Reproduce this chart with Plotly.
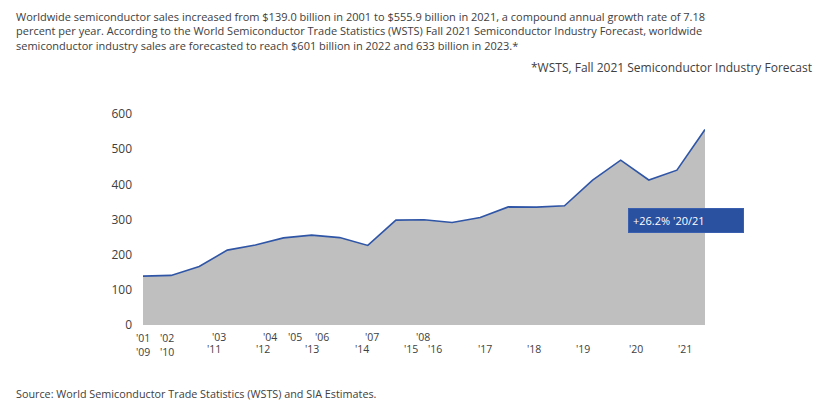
import plotly.graph_objects as go

# Worldwide semiconductor sales, $ billions (2001-2021)
years = list(range(2001, 2022))
sales = [139.0, 141.0, 166.4, 213.0, 227.5, 247.7, 255.6, 248.6, 226.3, 298.3,
         299.5, 291.6, 305.6, 335.8, 335.2, 338.9, 412.2, 468.8, 412.3, 440.4, 555.9]

# x-axis labels as they appear in the source (two staggered rows;
# the first two pairs sit on top of each other)
stacked_labels = ["'01<br>'09", "'02<br>'10"]
top_labels = ["'03", "'04", "'05", "'06", "'07", "'08"]
bottom_labels = ["'11", "'12", "'13", "'14", "'15", "'16",
                 "'17", "'18", "'19", "'20", "'21"]
y_ticks = [0, 100, 200, 300, 400, 500, 600]

# page body has an 8px margin, so the figure is drawn 8px in from the window edge
OFF = 8
W, H = 821 - 2 * OFF, 410 - 2 * OFF
ML, MT = 143 - OFF, 114 - OFF
MR = W + OFF - 705
MB = H + OFF - 325
PW, PH = W - ML - MR, H - MT - MB

stacked_pos = [2001.0, 2001.87]
top_pos = [2003.70, 2005.51, 2006.40, 2007.36, 2009.14, 2010.96]
bottom_pos = [2003.52, 2005.26, 2007.0, 2008.78, 2010.52, 2011.38,
              2013.17, 2014.92, 2016.66, 2018.55, 2020.30]

TEXT = "#404040"
FONT = "Open Sans"


def px_x(p):
    # window pixel -> paper x
    return (p - OFF - ML) / PW


def px_y(p):
    # window pixel -> paper y
    return 1 - (p - OFF - MT) / PH


fig = go.Figure()
fig.add_trace(go.Scatter(
    x=years, y=sales, mode="lines", fill="tozeroy",
    fillcolor="#bfbfbf", line=dict(color="#2f55a6", width=1.6),
    hoverinfo="x+y",
))

ann = []
for lab, pos in zip(stacked_labels, stacked_pos):
    ann.append(dict(x=pos, y=0, xref="x", yref="paper", text=lab, showarrow=False,
                    yanchor="top", yshift=-5, borderpad=0,
                    font=dict(size=10.5, color=TEXT)))
for lab, pos in zip(top_labels, top_pos):
    ann.append(dict(x=pos, y=0, xref="x", yref="paper", text=lab, showarrow=False,
                    yanchor="middle", yshift=-12, borderpad=0,
                    font=dict(size=10.5, color=TEXT)))
for lab, pos in zip(bottom_labels, bottom_pos):
    ann.append(dict(x=pos, y=0, xref="x", yref="paper", text=lab, showarrow=False,
                    yanchor="middle", yshift=-24, borderpad=0,
                    font=dict(size=10.5, color=TEXT)))

# growth callout
ann.append(dict(x=2018.26, y=298, xref="x", yref="y", xanchor="left", yanchor="middle",
                text="+26.2% '20/21", showarrow=False, align="left", width=106,
                bgcolor="#2a50a0", bordercolor="#3a5fae", borderwidth=1, borderpad=4,
                font=dict(size=11, color="white")))

intro = ("Worldwide semiconductor sales increased from $139.0 billion in 2001 to $555.9 billion in 2021, "
         "a compound annual growth rate of 7.18<br>percent per year. According to the World Semiconductor "
         "Trade Statistics (WSTS) Fall 2021 Semiconductor Industry Forecast, worldwide<br>semiconductor "
         "industry sales are forecasted to reach $601 billion in 2022 and 633 billion in 2023.*")
ann.append(dict(x=px_x(14), y=px_y(7), xref="paper", yref="paper", xanchor="left", yanchor="top",
                text=intro, showarrow=False, align="left",
                font=dict(size=11, color=TEXT, family=FONT)))
ann.append(dict(x=px_x(814), y=px_y(68), xref="paper", yref="paper", xanchor="right", yanchor="middle",
                text="*WSTS, Fall 2021 Semiconductor Industry Forecast", showarrow=False,
                font=dict(size=12, color=TEXT, family=FONT)))
ann.append(dict(x=px_x(14), y=px_y(393), xref="paper", yref="paper", xanchor="left", yanchor="middle",
                text="Source: World Semiconductor Trade Statistics (WSTS) and SIA Estimates.",
                showarrow=False, font=dict(size=10.8, color=TEXT, family=FONT)))

fig.update_layout(
    width=W, height=H,
    margin=dict(l=ML, r=MR, t=MT, b=MB),
    paper_bgcolor="white", plot_bgcolor="white",
    showlegend=False,
    font=dict(family=FONT, size=11, color=TEXT),
    annotations=ann,
    xaxis=dict(range=[2001, 2021], showgrid=False, zeroline=False,
               showticklabels=False, ticks="", showline=False),
    yaxis=dict(range=[0, 600], tickvals=y_ticks, showgrid=False, zeroline=False,
               showline=False, ticks="", ticklabelstandoff=10,
               tickfont=dict(size=12, color=TEXT)),
)

fig.write_html("out.html")
